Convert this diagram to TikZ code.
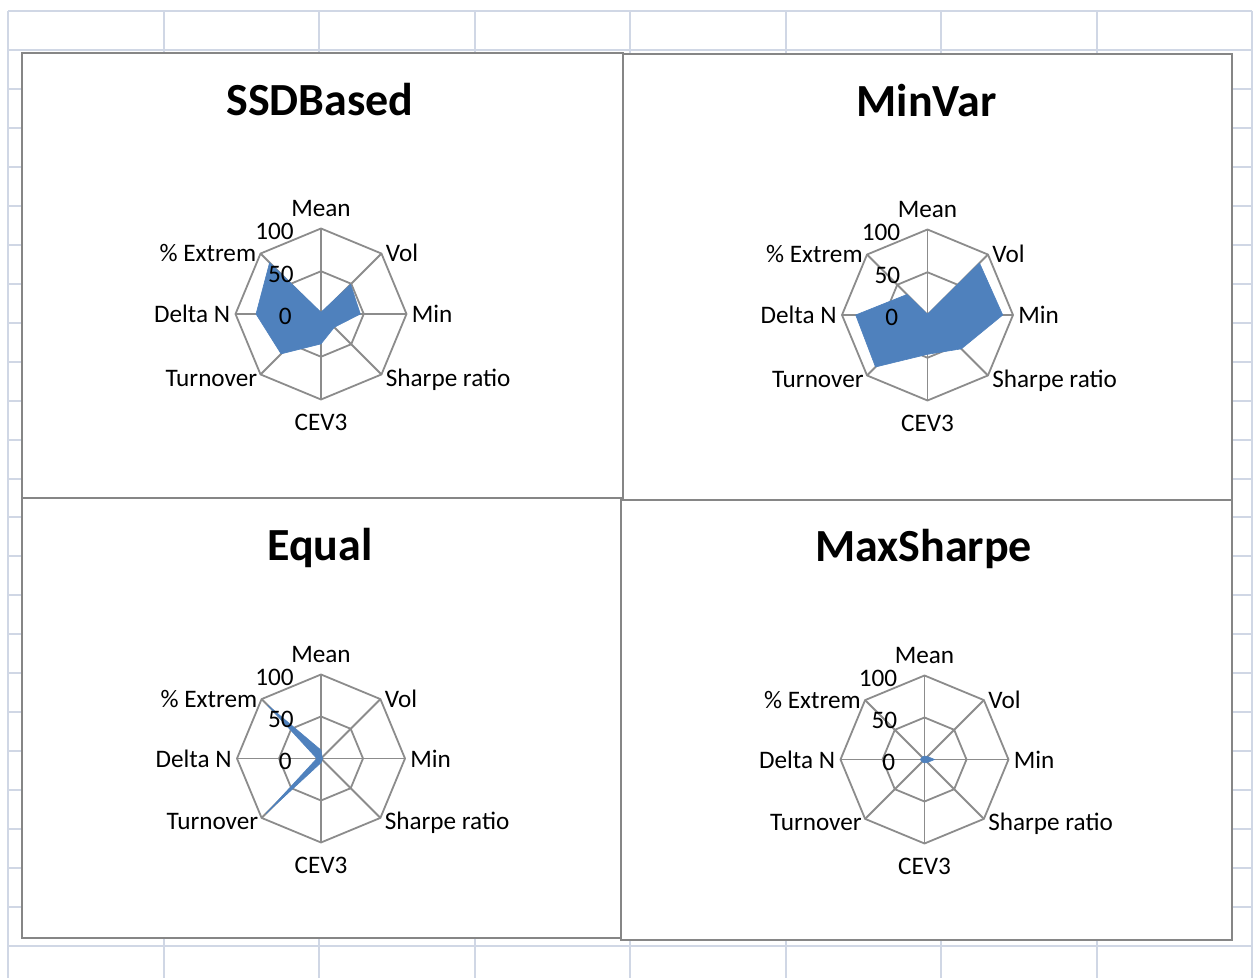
\documentclass[tikz,border=0pt]{standalone}
\usepackage{fontspec}
\setmainfont{Carlito}
\usepackage{tikz}
\usetikzlibrary{positioning,calc}
\definecolor{sheetgrid}{HTML}{D0D7E5}
\definecolor{framegray}{HTML}{868686}
\definecolor{webgray}{HTML}{8C8C8C}
\definecolor{seriesblue}{HTML}{4F81BD}
\tikzstyle{panel} = [draw=framegray, line width=1pt, fill=white]
\tikzstyle{web} = [draw=webgray, line width=0.9pt]
\tikzstyle{series} = [fill=seriesblue, draw=seriesblue, line width=0.3pt, line join=round]

\begin{document}
\begin{tikzpicture}[x=0.5pt, y=-0.5pt,
    cat_label/.style={font=\fontsize{12.6}{15}\selectfont, inner sep=0pt},
    tick_label/.style={font=\fontsize{12.6}{15}\selectfont, inner sep=0pt, anchor=base east},
    chart_title/.style={font=\bfseries\fontsize{23}{28}\selectfont, inner sep=0pt, anchor=base}]
    \fill[white] (0,0) rectangle (1255,978);
    \useasboundingbox (0,0) rectangle (1255,978);

    % Worksheet grid
    \foreach \k in {0,...,8}
        \draw[sheetgrid, line width=1pt] (8+155.5*\k,11) -- (8+155.5*\k,978);
    \foreach \k in {0,...,24}
        \draw[sheetgrid, line width=1pt] (8,11+38.96*\k) -- (1252,11+38.96*\k);

    % Chart areas
    \draw[panel] (22,53) rectangle (623,498);
    \draw[panel] (623,54) rectangle (1232,500);
    \draw[panel] (22,498) rectangle (621,938);
    \draw[panel] (621,500) rectangle (1232,940);

    % Radar charts: name/centre x/centre y/radius/title/values
    \foreach \cn/\cx/\cy/\r/\ttl/\vals in {
        ssd/321/314/85.5/SSDBased/{2,49,46,22,35,66,76,85},
        minvar/927.5/315/85.5/MinVar/{1,86,88,56,46,86,84,34},
        equal/321/758.5/84/Equal/{10,2,2,2,5,93,5,90},
        maxsharpe/924.5/759.5/84/MaxSharpe/{4,5,12,5,4,4,5,4}}
    {
        \coordinate (\cn-c) at (\cx,\cy);
        \foreach \i in {1,...,8} {
            \pgfmathsetmacro{\ang}{-135+45*\i}
            \coordinate (\cn-o\i) at ($(\cn-c)+(\ang:\r)$);
            \coordinate (\cn-h\i) at ($(\cn-c)+(\ang:\r/2)$);
        }
        \draw[web] (\cn-o1) -- (\cn-o2) -- (\cn-o3) -- (\cn-o4) -- (\cn-o5) -- (\cn-o6) -- (\cn-o7) -- (\cn-o8) -- cycle;
        \draw[web] (\cn-h1) -- (\cn-h2) -- (\cn-h3) -- (\cn-h4) -- (\cn-h5) -- (\cn-h6) -- (\cn-h7) -- (\cn-h8) -- cycle;
        \foreach \i in {1,...,8}
            \draw[web] (\cn-c) -- (\cn-o\i);

        % data series
        \foreach \v [count=\i] in \vals {
            \pgfmathsetmacro{\ang}{-135+45*\i}
            \coordinate (\cn-p\i) at ($(\cn-c)+(\ang:\r*\v/100)$);
        }
        \path[series] (\cn-p1) -- (\cn-p2) -- (\cn-p3) -- (\cn-p4) -- (\cn-p5) -- (\cn-p6) -- (\cn-p7) -- (\cn-p8) -- cycle;

        % category and axis labels
        \foreach \i/\lbl/\anc/\dx/\dy in {1/Mean/base/0/-12, 2/Vol/base west/4/8, 3/Min/base west/5/9,
                4/Sharpe ratio/base west/4/12, 5/CEV3/base/0/31, 6/Turnover/base east/-3/12,
                7/Delta N/base east/-5/9, 8/\% Extrem/base east/-4/8}
            \node[cat_label, anchor=\anc] (\cn-l\i) at ($(\cn-o\i)+(\dx,\dy)$) {\lbl};
        \node[tick_label] (\cn-t100) at ($(\cn-o1)+(-27,11)$) {100};
        \node[tick_label] (\cn-t50) at ($(\cn-h1)+(-27,11)$) {50};
        \node[tick_label] (\cn-t0) at ($(\cn-c)+(-29,11)$) {0};

        \node[chart_title] (\cn-title) at ($(\cn-c)+(-1,-198)$) {\ttl};
    }
\end{tikzpicture}
\end{document}
